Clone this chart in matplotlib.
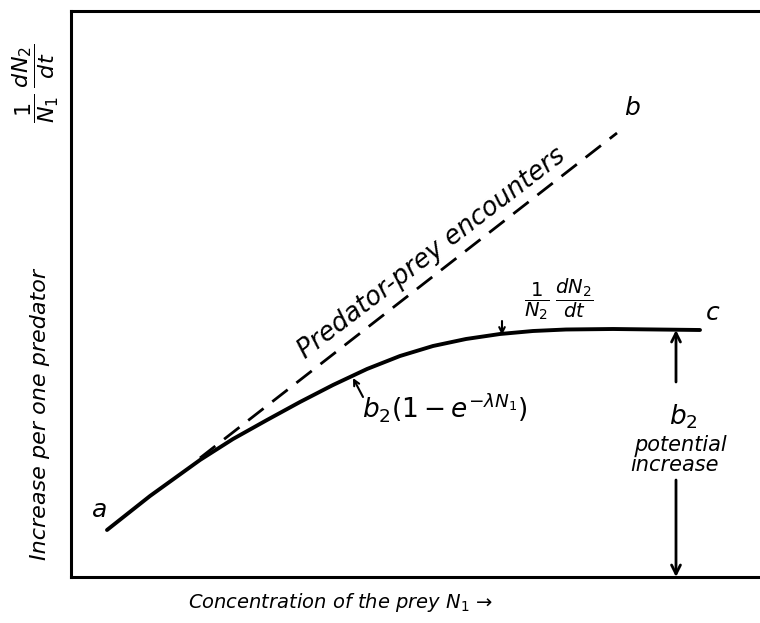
import matplotlib
matplotlib.use("Agg")
import matplotlib.pyplot as plt

plt.rcParams['mathtext.fontset'] = 'dejavusans'
plt.rcParams['mathtext.default'] = 'it'

# diagram units (axes spans 0..689 horizontally, 0..566 vertically)
curve_x = [36, 79, 129, 162, 196, 229, 262, 296, 329, 362, 395, 429, 462, 495, 542, 629]
curve_y = [47, 81, 117, 138, 157, 175, 192, 208, 221, 231, 238, 243, 246, 247.5, 248, 247]
dash_x = [129, 546]
dash_y = [119, 444]
b2_x = 605
b2_level = 247
gap_top = 195
gap_bottom = 97

W, H = 760, 623
fig = plt.figure(figsize=(W / 100, H / 100), dpi=100)
ax = fig.add_axes([71 / W, 46 / H, 1 - 71 / W, (577 - 11) / H])
ax.set_xlim(0, 689)
ax.set_ylim(0, 566)
ax.set_xticks([])
ax.set_yticks([])
for s in ['left', 'bottom', 'top']:
    ax.spines[s].set_linewidth(2.2)
ax.spines['right'].set_visible(False)

ax.plot(curve_x, curve_y, color='black', lw=2.8, solid_capstyle='round',
        solid_joinstyle='round')
ax.plot(dash_x, dash_y, color='black', lw=2.0, dashes=(7, 4))

fs = dict(style='italic', family='DejaVu Sans', color='black')
ax.text(29, 67, 'a', fontsize=18, ha='center', va='center', **fs)
ax.text(561, 469, 'b', fontsize=18, ha='center', va='center', **fs)
ax.text(642, 264, 'c', fontsize=18, ha='center', va='center', **fs)

ax.text(361, 324, 'Predator-prey encounters', fontsize=18.5, rotation=37.5,
        rotation_mode='anchor', ha='center', va='center', **fs)

ax.text(374, 170, r'$b_2(1-e^{-\lambda N_1})$', fontsize=19, ha='center', va='center')
ax.text(488, 278, r'$\dfrac{1}{N_2}\;\dfrac{dN_2}{dt}$', fontsize=14, ha='center', va='center')

arr = dict(arrowstyle='->', color='black', lw=1.5, shrinkA=0, shrinkB=0)
ax.annotate('', xy=(282, 199), xytext=(292, 180), arrowprops=arr)
ax.annotate('', xy=(431, 242), xytext=(431, 256), arrowprops=arr)

arr2 = dict(arrowstyle='->', color='black', lw=2.0, shrinkA=0, shrinkB=0, mutation_scale=16)
ax.annotate('', xy=(b2_x, b2_level), xytext=(b2_x, gap_top), arrowprops=arr2)
ax.annotate('', xy=(b2_x, 0), xytext=(b2_x, gap_bottom), arrowprops=arr2)

ax.text(612, 160, r'$b_2$', fontsize=19, ha='center', va='center')
ax.text(609, 132, 'potential', fontsize=15, ha='center', va='center', **fs)
ax.text(604, 112, 'increase', fontsize=15, ha='center', va='center', **fs)

fig.text(40 / W, 1 - 415 / H, 'Increase per one predator',
         rotation=90, fontsize=16, ha='center', va='center', **fs)
fig.text(36 / W, 1 - 83 / H, r'$\dfrac{1}{N_1}\;\dfrac{dN_2}{dt}$',
         rotation=90, fontsize=16, ha='center', va='center')
fig.text(340 / W, 1 - 603 / H, r'Concentration of the prey $N_1$ →',
         fontsize=14, ha='center', va='center', **fs)

fig.savefig('out.png', dpi=100)
